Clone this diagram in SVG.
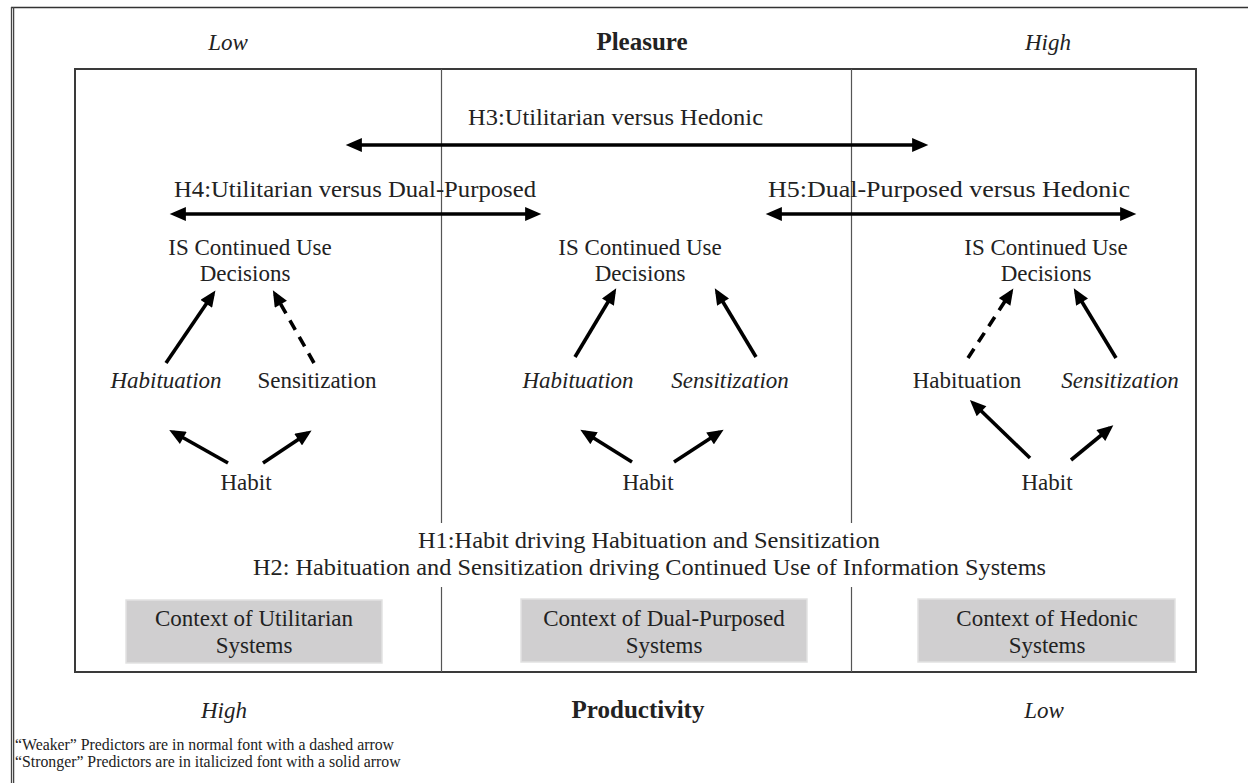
<svg xmlns="http://www.w3.org/2000/svg" width="1248" height="783" viewBox="0 0 1248 783">
<style>
text{font-family:"Liberation Serif","Times New Roman",serif;font-size:23px;fill:#222;text-anchor:middle}
.it{font-style:italic}
.b{font-weight:bold;font-size:25px}
.h{font-size:24px;text-anchor:start}
.fn{font-size:15.8px;text-anchor:start}
.arr{stroke:#000;stroke-width:3.6;fill:none}
.dash{stroke-dasharray:11 8}
.div{stroke:#555;stroke-width:1.2}
.ctx{fill:#d0cfd0;stroke:#e2e2e2;stroke-width:1.5}
</style>
<defs>
<marker id="ah" markerUnits="userSpaceOnUse" markerWidth="18" markerHeight="14" refX="11" refY="6.5" orient="auto-start-reverse" viewBox="0 0 16 13">
<path d="M0,0 L15,6.5 L0,13 z" fill="#000"/>
</marker>
</defs>
<rect width="1248" height="783" fill="#fff"/>
<g id="frame">
<line x1="11" y1="7.5" x2="1248" y2="7.5" stroke="#333" stroke-width="1.6"/>
<line x1="11.5" y1="7" x2="11.5" y2="783" stroke="#444" stroke-width="1.3"/>
<line x1="13.6" y1="7" x2="13.6" y2="783" stroke="#444" stroke-width="1.3"/>
<rect x="75" y="69" width="1121" height="603" fill="none" stroke="#3a3a3a" stroke-width="2"/>
<line class="div" x1="441.5" y1="69" x2="441.5" y2="523"/>
<line class="div" x1="441.5" y1="587" x2="441.5" y2="672"/>
<line class="div" x1="851.5" y1="69" x2="851.5" y2="523"/>
<line class="div" x1="851.5" y1="587" x2="851.5" y2="672"/>
</g>
<g id="axis-labels">
<text class="it" x="228" y="50">Low</text>
<text class="b" x="642" y="50">Pleasure</text>
<text class="it" x="1048" y="50">High</text>
<text class="it" x="224" y="718">High</text>
<text class="b" x="638" y="718">Productivity</text>
<text class="it" x="1044" y="718">Low</text>
</g>
<g id="hypotheses">
<text class="h" x="468" y="125" textLength="295" lengthAdjust="spacingAndGlyphs">H3:Utilitarian versus Hedonic</text>
<text class="h" x="174" y="197" textLength="362" lengthAdjust="spacingAndGlyphs">H4:Utilitarian versus Dual-Purposed</text>
<text class="h" x="768" y="197" textLength="362" lengthAdjust="spacingAndGlyphs">H5:Dual-Purposed versus Hedonic</text>
<text class="h" x="418" y="548" textLength="462" lengthAdjust="spacingAndGlyphs">H1:Habit driving Habituation and Sensitization</text>
<text class="h" x="253" y="575" textLength="793" lengthAdjust="spacingAndGlyphs">H2: Habituation and Sensitization driving Continued Use of Information Systems</text>
</g>
<g id="col-utilitarian">
<text x="250" y="255">IS Continued Use</text>
<text x="245" y="281">Decisions</text>
<text class="it" x="166" y="388">Habituation</text>
<text x="317" y="388">Sensitization</text>
<text x="246" y="490">Habit</text>
</g>
<g id="col-dual">
<text x="640" y="255">IS Continued Use</text>
<text x="640" y="281">Decisions</text>
<text class="it" x="578" y="388">Habituation</text>
<text class="it" x="730" y="388">Sensitization</text>
<text x="648" y="490">Habit</text>
</g>
<g id="col-hedonic">
<text x="1046" y="255">IS Continued Use</text>
<text x="1046" y="281">Decisions</text>
<text x="967" y="388">Habituation</text>
<text class="it" x="1120" y="388">Sensitization</text>
<text x="1047" y="490">Habit</text>
</g>
<g id="ctx-utilitarian">
<rect class="ctx" x="126" y="600" width="256" height="63"/>
<text x="254" y="626">Context of Utilitarian</text>
<text x="254" y="653">Systems</text>
</g>
<g id="ctx-dual">
<rect class="ctx" x="521" y="599" width="286" height="63"/>
<text x="664" y="626">Context of Dual-Purposed</text>
<text x="664" y="653">Systems</text>
</g>
<g id="ctx-hedonic">
<rect class="ctx" x="918" y="599" width="257" height="63"/>
<text x="1047" y="626">Context of Hedonic</text>
<text x="1047" y="653">Systems</text>
</g>
<g id="connectors">
<line class="arr" x1="350" y1="145" x2="924" y2="145" marker-start="url(#ah)" marker-end="url(#ah)"/>
<line class="arr" x1="174" y1="214" x2="537" y2="214" marker-start="url(#ah)" marker-end="url(#ah)"/>
<line class="arr" x1="770" y1="214" x2="1132" y2="214" marker-start="url(#ah)" marker-end="url(#ah)"/>
<line class="arr" x1="166" y1="363" x2="213" y2="294" marker-end="url(#ah)"/>
<line class="arr dash" x1="314" y1="363" x2="275" y2="294" marker-end="url(#ah)"/>
<line class="arr" x1="228" y1="463" x2="173" y2="432" marker-end="url(#ah)"/>
<line class="arr" x1="263" y1="463" x2="308" y2="433" marker-end="url(#ah)"/>
<line class="arr" x1="575" y1="357" x2="614" y2="292" marker-end="url(#ah)"/>
<line class="arr" x1="756" y1="357" x2="717" y2="292" marker-end="url(#ah)"/>
<line class="arr" x1="632" y1="462" x2="584" y2="432" marker-end="url(#ah)"/>
<line class="arr" x1="674" y1="462" x2="720" y2="432" marker-end="url(#ah)"/>
<line class="arr dash" x1="968" y1="358" x2="1011" y2="292" marker-end="url(#ah)"/>
<line class="arr" x1="1116" y1="358" x2="1076" y2="292" marker-end="url(#ah)"/>
<line class="arr" x1="1030" y1="458" x2="973" y2="403" marker-end="url(#ah)"/>
<line class="arr" x1="1071" y1="460" x2="1110" y2="428" marker-end="url(#ah)"/>
</g>
<g id="legend">
<text class="fn" x="15" y="750">“Weaker” Predictors are in normal font with a dashed arrow</text>
<text class="fn" x="15" y="767">“Stronger” Predictors are in italicized font with a solid arrow</text>
</g>
</svg>
